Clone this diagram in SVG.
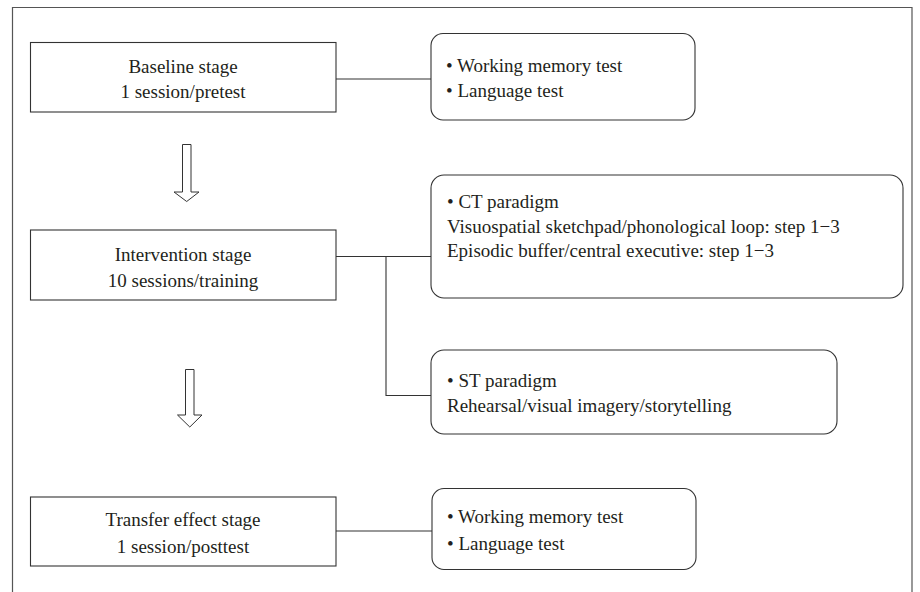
<svg xmlns="http://www.w3.org/2000/svg" width="920" height="592" viewBox="0 0 920 592">
  <defs>
    <style>
      .frame { fill: none; stroke: #555; stroke-width: 1.2; }
      .stage { fill: #fff; stroke: #333; stroke-width: 1.1; }
      .detail { fill: #fff; stroke: #333; stroke-width: 1.1; }
      .link { fill: none; stroke: #333; stroke-width: 1.1; }
      .flow { fill: #fff; stroke: #333; stroke-width: 1; stroke-linejoin: miter; }
      text { font-family: "Liberation Serif", "Times New Roman", serif; font-size: 19px; fill: #231f20; }
      .c { text-anchor: middle; }
    </style>
  </defs>
  <rect width="920" height="592" fill="#fff"/>
  <!-- outer frame (open at the bottom) -->
  <path class="frame" d="M12.5 592 V7.5 H912 V592"/>

  <!-- connectors -->
  <g id="connectors">
    <line class="link" x1="336" y1="79" x2="431" y2="79"/>
    <path class="link" d="M336 256.5 H431 M386 256.5 V395.5 H431"/>
    <line class="link" x1="336" y1="531" x2="432" y2="531"/>
    <!-- hollow down arrows between stages -->
    <path class="flow" d="M182.5 144.5 H191 V192 H199 L186.7 201.5 L174 192 H182.5 Z"/>
    <path class="flow" d="M185.5 369.5 H194 V415 H202 L189.8 427 L177.5 415 H185.5 Z"/>
  </g>

  <g id="baseline">
    <rect class="stage" x="30.5" y="42.5" width="305.5" height="69.5"/>
    <text class="c" x="183" y="73">Baseline stage</text>
    <text class="c" x="183" y="98">1 session/pretest</text>
  </g>
  <g id="pretest">
    <rect class="detail" x="431" y="33.5" width="264" height="86.5" rx="12"/>
    <text x="446" y="72">• Working memory test</text>
    <text x="446" y="97">• Language test</text>
  </g>

  <g id="intervention">
    <rect class="stage" x="30.5" y="230" width="305.5" height="70"/>
    <text class="c" x="183" y="261">Intervention stage</text>
    <text class="c" x="183" y="287">10 sessions/training</text>
  </g>
  <g id="ct-paradigm">
    <rect class="detail" x="431" y="175" width="472" height="123" rx="13"/>
    <text x="447" y="208">• CT paradigm</text>
    <text x="447" y="233">Visuospatial sketchpad/phonological loop: step 1−3</text>
    <text x="447" y="257">Episodic buffer/central executive: step 1−3</text>
  </g>
  <g id="st-paradigm">
    <rect class="detail" x="431" y="350" width="406" height="84" rx="13"/>
    <text x="447" y="387">• ST paradigm</text>
    <text x="447" y="412">Rehearsal/visual imagery/storytelling</text>
  </g>

  <g id="transfer">
    <rect class="stage" x="30.5" y="497" width="305.5" height="69"/>
    <text class="c" x="183" y="526">Transfer effect stage</text>
    <text class="c" x="183" y="553">1 session/posttest</text>
  </g>
  <g id="posttest">
    <rect class="detail" x="432" y="488.5" width="264" height="81" rx="12"/>
    <text x="447" y="523">• Working memory test</text>
    <text x="447" y="550">• Language test</text>
  </g>
</svg>
